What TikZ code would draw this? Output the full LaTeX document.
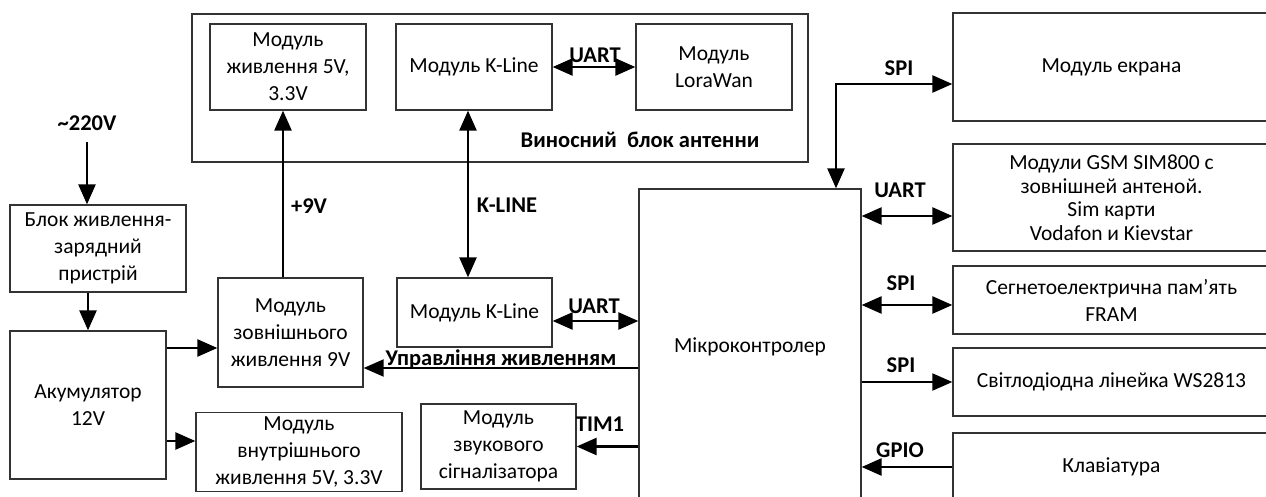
\documentclass[tikz,border=0pt]{standalone}
\usepackage{fontspec}
\setmainfont{Carlito}
\usetikzlibrary{arrows.meta}

\begin{document}
\begin{tikzpicture}[x=1pt, y=-1pt, font=\fontsize{21.5}{27}\selectfont,
  >={Triangle[length=20pt, width=17pt]},
  box/.style={draw=black!80, line width=1.3pt, align=center, inner sep=2pt},
  lbl/.style={font=\fontsize{22.5}{24}\selectfont\bfseries, inner sep=0pt},
  arr/.style={->, line width=2.6pt},
  both/.style={<->, line width=2.6pt}]
\clip (0,0) rectangle (1266,497);
% remote antenna unit
\node[box, minimum width=616pt, minimum height=148pt] (ant) at (500,88) {};
\node[box, minimum width=156pt, minimum height=86pt] (pwfive) at (288,67) {Модуль\\ живлення 5V,\\ 3.3V};
\node[box, minimum width=156pt, minimum height=86pt] (klup) at (474,67) {Модуль K-Line};
\node[box, minimum width=156pt, minimum height=86pt] (lora) at (714,67) {Модуль\\ LoraWan};
\node[lbl] (antname) at (640,140) {Виносний\ \ блок антенни};
\draw[both] (klup.east) -- (lora.west);
\node[lbl] (uartup) at (595,55) {UART};
% power
\node[lbl] (mains) at (87,123) {\textasciitilde220V};
\node[box, minimum width=176pt, minimum height=87pt] (charger) at (98,248.5) {Блок живлення-\\ зарядний\\ пристрій};
\node[box, minimum width=156pt, minimum height=148pt] (acc) at (88,405) {Акумулятор\\ 12V};
\node[box, minimum width=145pt, minimum height=109pt] (pwnine) at (290.5,332.5) {Модуль\\ зовнішнього\\ живлення 9V};
\node[box, minimum width=206pt, minimum height=79pt] (pwin) at (299,452) {Модуль\\ внутрішнього\\ живлення 5V, 3.3V};
\draw[arr] (mains.south |- 0,142) -- (mains.south |- charger.north);
\draw[arr] (acc.north |- charger.south) -- (acc.north);
\draw[arr] (acc.east |- 0,348) -- (pwnine.west |- 0,348);
\draw[arr] (acc.east |- 0,441) -- (pwin.west |- 0,441);
\draw[arr] (pwnine.north -| 283,0) -- (pwfive.south -| 283,0);
\node[lbl] (nine) at (309,206) {+9V};
% microcontroller and its left side
\node[box, minimum width=155pt, minimum height=69pt] (kldown) at (474.5,312.5) {Модуль K-Line};
\node[box, minimum width=222pt, minimum height=316pt] (mcu) at (750,347) {Мікроконтролер};
\node[box, minimum width=155pt, minimum height=85pt] (buzz) at (498.5,446.5) {Модуль\\ звукового\\ сігналізатора};
\draw[both] (klup.south -| 468,0) -- (kldown.north -| 468,0);
\node[lbl] (kline) at (507,205) {K-LINE};
\draw[both] (kldown.east |- 0,321) -- (mcu.west |- 0,321);
\node[lbl] (uartmid) at (594,306) {UART};
\draw[arr, line width=2pt] (mcu.west |- 0,368) -- (pwnine.east |- 0,368);
\node[lbl] (pwctl) at (501,359) {Управління живленням};
\draw[arr] (mcu.west |- buzz.east) -- (buzz.east);
\node[lbl] (tim) at (600,424) {TIM1};
% peripherals on the right
\node[box, minimum width=317pt, minimum height=108pt] (disp) at (1111.5,67) {Модуль екрана};
\node[box, minimum width=317pt, minimum height=107pt, font=\fontsize{21.5}{23.5}\selectfont] (gsm) at (1111.5,197.5) {Модули GSM SIM800 с\\ зовнішней антеной.\\ Sim карти\\ Vodafon и Kievstar};
\node[box, minimum width=317pt, minimum height=68pt] (fram) at (1111.5,300) {Сегнетоелектрична пам’ять\\ FRAM};
\node[box, minimum width=317pt, minimum height=68pt] (led) at (1111.5,382) {Світлодіодна лінейка WS2813};
\node[box, minimum width=317pt, minimum height=68pt] (kbd) at (1111.5,467) {Клавіатура};
\draw[both] (disp.west |- 0,84) -| (mcu.north -| 836,0);
\node[lbl] (spidisp) at (899,68) {SPI};
\draw[both] (mcu.east |- 0,216) -- (gsm.west |- 0,216);
\node[lbl] (uartgsm) at (900,190) {UART};
\draw[both] (mcu.east |- 0,305) -- (fram.west |- 0,305);
\node[lbl] (spifram) at (901,283) {SPI};
\draw[arr, line width=2pt] (mcu.east |- led.west) -- (led.west);
\node[lbl] (spiled) at (901,365) {SPI};
\draw[arr] (kbd.west) -- (mcu.east |- kbd.west);
\node[lbl] (gpio) at (900,450) {GPIO};
\end{tikzpicture}
\end{document}
